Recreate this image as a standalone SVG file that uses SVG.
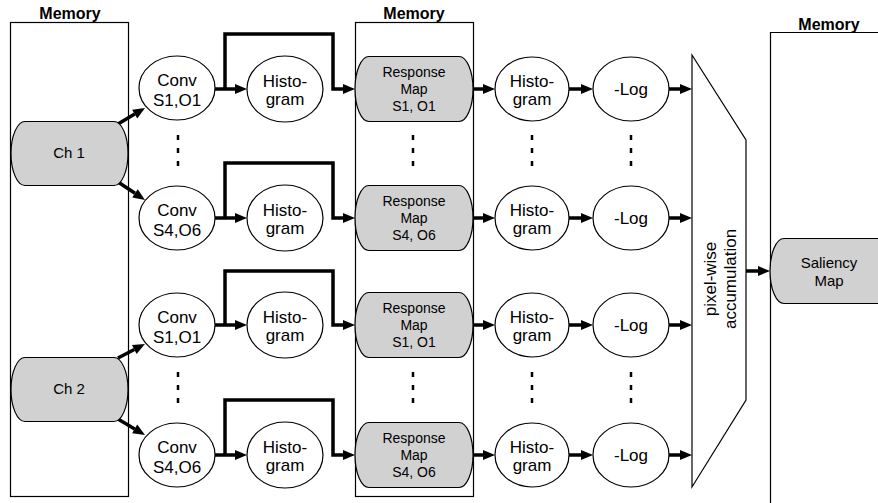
<svg xmlns="http://www.w3.org/2000/svg" width="878" height="503" viewBox="0 0 878 503">
<defs>
<marker id="ah" markerUnits="userSpaceOnUse" markerWidth="12" markerHeight="10" refX="0" refY="5" orient="auto" overflow="visible">
<path d="M0,0 L12,5 L0,10 Z" fill="#000"/>
</marker>
<style>
text{font-family:"Liberation Sans",Arial,sans-serif;fill:#000;text-anchor:middle}
.mem{fill:none;stroke:#000;stroke-width:1.2}
.lbl{font-weight:bold;font-size:16px}
.ell{fill:#fff;stroke:#000;stroke-width:1.2}
.gray{fill:#d1d1d1;stroke:#000;stroke-width:1.2}
.big{font-size:17px}
.sm{font-size:14px}
.ch{font-size:15px}
.arr{fill:none;stroke:#000;stroke-width:3.5;marker-end:url(#ah)}
.dots{fill:none;stroke:#000;stroke-width:2.5;stroke-dasharray:5 8}
</style>
</defs>
<rect width="878" height="503" fill="#fff"/>

<g id="memory-left">
<rect class="mem" x="10.5" y="22.5" width="118" height="474"/>
<text class="lbl" x="70" y="19">Memory</text>
</g>
<g id="memory-mid">
<rect class="mem" x="355.5" y="22.5" width="118" height="474"/>
<text class="lbl" x="414" y="19">Memory</text>
</g>
<g id="memory-right">
<path class="mem" d="M770.5,505 V32.5 H880"/>
<text class="lbl" x="829" y="30">Memory</text>
</g>

<g id="connectors">
<line class="arr" x1="118" y1="124" x2="134.7" y2="114.1"/>
<line class="arr" x1="118" y1="182" x2="135" y2="193.3"/>
<line class="arr" x1="118" y1="358" x2="134.3" y2="349.5"/>
<line class="arr" x1="118" y1="419" x2="134.7" y2="428.9"/>
<line class="arr" x1="215" y1="89" x2="235" y2="89"/>
<path class="arr" d="M225,89 V34 H333 V89 H343"/>
<line class="arr" x1="473" y1="89" x2="483" y2="89"/>
<line class="arr" x1="569" y1="89" x2="581" y2="89"/>
<line class="arr" x1="669" y1="89" x2="680" y2="89"/>
<line class="arr" x1="215" y1="218" x2="235" y2="218"/>
<path class="arr" d="M225,218 V163 H333 V218 H343"/>
<line class="arr" x1="473" y1="218" x2="483" y2="218"/>
<line class="arr" x1="569" y1="218" x2="581" y2="218"/>
<line class="arr" x1="669" y1="218" x2="680" y2="218"/>
<line class="arr" x1="215" y1="325" x2="235" y2="325"/>
<path class="arr" d="M225,325 V271 H333 V325 H343"/>
<line class="arr" x1="473" y1="325" x2="483" y2="325"/>
<line class="arr" x1="569" y1="325" x2="581" y2="325"/>
<line class="arr" x1="669" y1="325" x2="680" y2="325"/>
<line class="arr" x1="215" y1="455" x2="235" y2="455"/>
<path class="arr" d="M225,455 V400 H333 V455 H343"/>
<line class="arr" x1="473" y1="455" x2="483" y2="455"/>
<line class="arr" x1="569" y1="455" x2="581" y2="455"/>
<line class="arr" x1="669" y1="455" x2="680" y2="455"/>
<line class="arr" x1="746" y1="271" x2="758" y2="271"/>
<line class="dots" x1="178" y1="135" x2="178" y2="167"/>
<line class="dots" x1="413" y1="135" x2="413" y2="167"/>
<line class="dots" x1="532" y1="135" x2="532" y2="167"/>
<line class="dots" x1="631" y1="135" x2="631" y2="167"/>
<line class="dots" x1="178" y1="372" x2="178" y2="404"/>
<line class="dots" x1="413" y1="372" x2="413" y2="404"/>
<line class="dots" x1="532" y1="372" x2="532" y2="404"/>
<line class="dots" x1="631" y1="372" x2="631" y2="404"/>
</g>

<g id="ch1">
<path class="gray" d="M25,121.5 H114 A14,32 0 0 1 114,185.5 H25 A14,32 0 0 1 25,121.5 Z"/>
<text class="ch" x="69" y="158">Ch 1</text>
</g>
<g id="ch2">
<path class="gray" d="M25,357.5 H114 A14,32 0 0 1 114,421.5 H25 A14,32 0 0 1 25,357.5 Z"/>
<text class="ch" x="69" y="394">Ch 2</text>
</g>

<g id="conv-1-1">
<ellipse class="ell" cx="177" cy="88" rx="38" ry="32"/>
<text class="big" x="177" y="86">Conv</text><text class="big" x="177" y="106">S1,O1</text>
</g>
<g id="conv-1-2">
<ellipse class="ell" cx="177" cy="218" rx="38" ry="32"/>
<text class="big" x="177" y="216">Conv</text><text class="big" x="177" y="236">S4,O6</text>
</g>
<g id="conv-2-1">
<ellipse class="ell" cx="177" cy="325" rx="38" ry="32"/>
<text class="big" x="177" y="323">Conv</text><text class="big" x="177" y="343">S1,O1</text>
</g>
<g id="conv-2-2">
<ellipse class="ell" cx="177" cy="455" rx="38" ry="32"/>
<text class="big" x="177" y="453">Conv</text><text class="big" x="177" y="473">S4,O6</text>
</g>

<g id="hist-1-1">
<ellipse class="ell" cx="285" cy="89" rx="38" ry="33"/>
<text class="big" x="285" y="87">Histo-</text><text class="big" x="285" y="105">gram</text>
</g>
<g id="hist-1-2">
<ellipse class="ell" cx="285" cy="218" rx="38" ry="33"/>
<text class="big" x="285" y="216">Histo-</text><text class="big" x="285" y="234">gram</text>
</g>
<g id="hist-2-1">
<ellipse class="ell" cx="285" cy="325" rx="38" ry="33"/>
<text class="big" x="285" y="323">Histo-</text><text class="big" x="285" y="341">gram</text>
</g>
<g id="hist-2-2">
<ellipse class="ell" cx="285" cy="455" rx="38" ry="33"/>
<text class="big" x="285" y="453">Histo-</text><text class="big" x="285" y="471">gram</text>
</g>

<g id="resp-1-1">
<path class="gray" d="M369,56.5 H459 A14,32.5 0 0 1 459,121.5 H369 A14,32.5 0 0 1 369,56.5 Z"/>
<text class="sm" x="414" y="77">Response</text><text class="sm" x="414" y="94">Map</text><text class="sm" x="414" y="111">S1, O1</text>
</g>
<g id="resp-1-2">
<path class="gray" d="M369,185.5 H459 A14,32.5 0 0 1 459,250.5 H369 A14,32.5 0 0 1 369,185.5 Z"/>
<text class="sm" x="414" y="206">Response</text><text class="sm" x="414" y="223">Map</text><text class="sm" x="414" y="240">S4, O6</text>
</g>
<g id="resp-2-1">
<path class="gray" d="M369,292.5 H459 A14,32.5 0 0 1 459,357.5 H369 A14,32.5 0 0 1 369,292.5 Z"/>
<text class="sm" x="414" y="313">Response</text><text class="sm" x="414" y="330">Map</text><text class="sm" x="414" y="347">S1, O1</text>
</g>
<g id="resp-2-2">
<path class="gray" d="M369,422.5 H459 A14,32.5 0 0 1 459,487.5 H369 A14,32.5 0 0 1 369,422.5 Z"/>
<text class="sm" x="414" y="443">Response</text><text class="sm" x="414" y="460">Map</text><text class="sm" x="414" y="477">S4, O6</text>
</g>

<g id="hist2-1-1">
<ellipse class="ell" cx="532" cy="89" rx="37" ry="32"/>
<text class="big" x="532" y="87">Histo-</text><text class="big" x="532" y="105">gram</text>
</g>
<g id="hist2-1-2">
<ellipse class="ell" cx="532" cy="218" rx="37" ry="32"/>
<text class="big" x="532" y="216">Histo-</text><text class="big" x="532" y="234">gram</text>
</g>
<g id="hist2-2-1">
<ellipse class="ell" cx="532" cy="325" rx="37" ry="32"/>
<text class="big" x="532" y="323">Histo-</text><text class="big" x="532" y="341">gram</text>
</g>
<g id="hist2-2-2">
<ellipse class="ell" cx="532" cy="455" rx="37" ry="32"/>
<text class="big" x="532" y="453">Histo-</text><text class="big" x="532" y="471">gram</text>
</g>

<g id="log-1-1">
<ellipse class="ell" cx="631" cy="89" rx="38" ry="32"/>
<text class="big" x="631" y="95">-Log</text>
</g>
<g id="log-1-2">
<ellipse class="ell" cx="631" cy="218" rx="38" ry="32"/>
<text class="big" x="631" y="224">-Log</text>
</g>
<g id="log-2-1">
<ellipse class="ell" cx="631" cy="325" rx="38" ry="32"/>
<text class="big" x="631" y="331">-Log</text>
</g>
<g id="log-2-2">
<ellipse class="ell" cx="631" cy="455" rx="38" ry="32"/>
<text class="big" x="631" y="461">-Log</text>
</g>

<g id="accumulation">
<polygon points="692,55 746,140 746,400 692,487" fill="#fff" stroke="#000" stroke-width="1.2"/>
<g transform="translate(719,279) rotate(-90)">
<text class="big" x="0" y="-3">pixel-wise</text>
<text class="big" x="0" y="17">accumulation</text>
</g>
</g>

<g id="saliency">
<path class="gray" d="M784,238.5 H900 V303.5 H784 A14,32.5 0 0 1 784,238.5 Z"/>
<text class="ch" x="829" y="268">Saliency</text><text class="ch" x="829" y="286">Map</text>
</g>
</svg>
